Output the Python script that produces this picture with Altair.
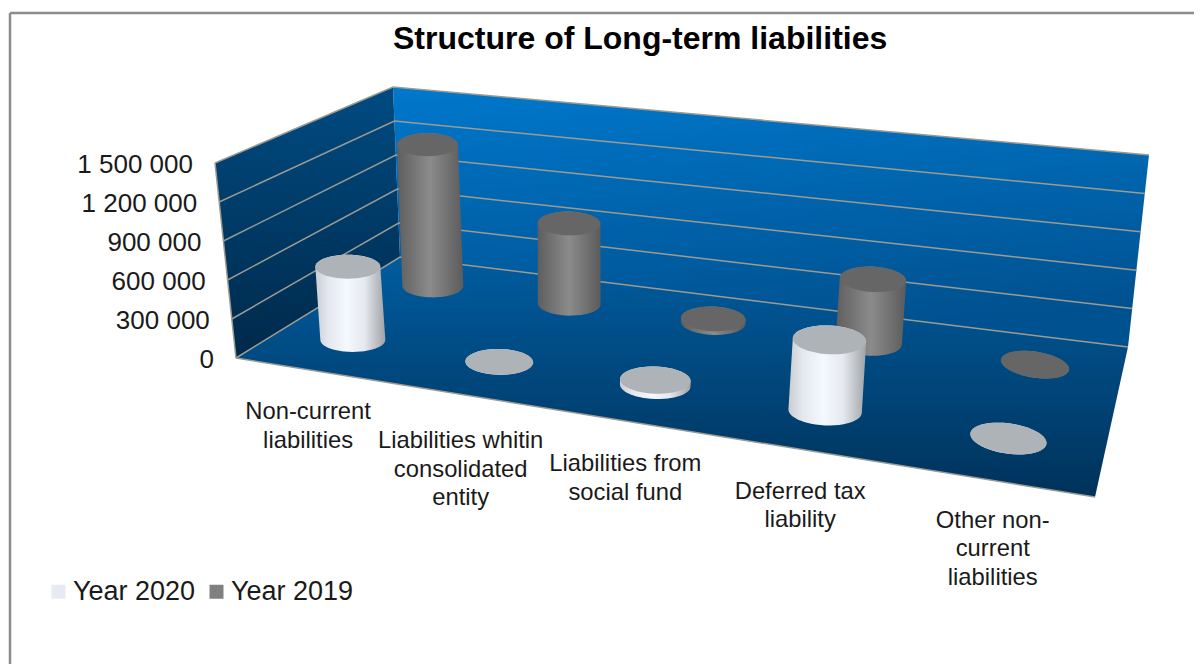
import numpy as np
import pandas as pd
import altair as alt

# ---- values
categories = ["Non-current\nliabilities", "Liabilities whitin\nconsolidated\nentity",
              "Liabilities from\nsocial fund", "Deferred tax\nliability",
              "Other non-\ncurrent\nliabilities"]
year_2020 = [575000, 1000, 40000, 525000, 1000]
year_2019 = [1190000, 660000, 30000, 500000, 1000]
tick_values = [0, 300000, 600000, 900000, 1200000, 1500000]
series_names = ["Year 2020", "Year 2019"]
title_text = "Structure of Long-term liabilities"
FONT = "Liberation Sans"
AXIS_MAX = 1500000

# ---- the oblique view: floor corners and the height of the axis maximum
F = np.array([[236, 358], [1095, 497], [1128, 347], [400, 257]], float)
UP_FL, UP_BL, UP_BR, UP_FR = map(np.array, ([-21., -195.], [-7., -170.], [21., -192.], [26., -215.]))
# small layout corrections per category
U_SHIFT = [0.005, 0.01, 0.01, 0.009, 0.0045]
TILT = [0, 0.5, 1, 1.5, 4.5]
LABEL_NUDGE = [(3, 31), (8, 36), (11, 33), (8, 32), (4, 29)]


def make_h():
    (x0, y0), (x1, y1), (x2, y2), (x3, y3) = F
    dx1, dx2, sx = x1 - x2, x3 - x2, x0 - x1 + x2 - x3
    dy1, dy2, sy = y1 - y2, y3 - y2, y0 - y1 + y2 - y3
    det = dx1 * dy2 - dx2 * dy1
    g = (sx * dy2 - dx2 * sy) / det
    h = (dx1 * sy - sx * dy1) / det
    return np.array([[x1 - x0 + g * x1, x3 - x0 + h * x3, x0],
                     [y1 - y0 + g * y1, y3 - y0 + h * y3, y0],
                     [g, h, 1.0]])


H = make_h()


def floor(u, v):
    p = H @ np.array([u, v, 1.0])
    return p[:2] / p[2]


def lift(u, v, value):
    up = (UP_FL * (1 - u) * (1 - v) + UP_FR * u * (1 - v) + UP_BL * (1 - u) * v + UP_BR * u * v)
    return floor(u, v) + up * value / AXIS_MAX


def hull(points):
    pts = sorted(set((round(float(a), 2), round(float(b), 2)) for a, b in points))

    def half(seq):
        out = []
        for p in seq:
            while len(out) > 1 and ((out[-1][0] - out[-2][0]) * (p[1] - out[-2][1])
                                    - (out[-1][1] - out[-2][1]) * (p[0] - out[-2][0])) <= 0:
                out.pop()
            out.append(p)
        return out
    return half(pts), half(pts[::-1])


def poly_rows(points, key, **extra):
    a, b = hull(points)
    a = np.array(a)
    b = np.array(b[::-1])
    xs = np.unique(np.r_[a[:, 0], b[:, 0]])
    ya = np.interp(xs, a[:, 0], a[:, 1])
    yb = np.interp(xs, b[:, 0], b[:, 1])
    return [dict(x=float(x), y=float(p), y2=float(q), key=key, **extra) for x, p, q in zip(xs, ya, yb)]


def ellipse(c, i, back):
    rx = (30.5 + 0.9 * i) if back else (32.5 + 1.4 * i)
    ry = (11.5 + 0.4 * i) if back else (12 + 0.8 * i)
    t = np.linspace(0, 2 * np.pi, 49)[:-1]
    return np.c_[c[0] + rx * np.cos(t), c[1] + ry * np.sin(t) + TILT[i] * np.cos(t)]


def cylinders(values, v, back, name):
    bodies, tops = [], []
    for i, val in enumerate(values):
        u = (i + 0.5) / 5 + U_SHIFT[i]
        base, top = floor(u, v), lift(u, v, val)
        eb, et = ellipse(base, i, back), ellipse(top, i, back)
        bodies += poly_rows(np.r_[eb, et], f"{name}{i}", series=name, value=val)
        tops += poly_rows(et, f"{name}{i}", series=name, value=val)
    return pd.DataFrame(bodies), pd.DataFrame(tops)


b19, t19 = cylinders(year_2019, 0.77, True, series_names[1])
b20, t20 = cylinders(year_2020, 0.25, False, series_names[0])

p_fl, p_fr, p_br, p_bl = floor(0, 0), floor(1, 0), floor(1, 1), floor(0, 1)
t_fl, t_bl, t_br = p_fl + UP_FL, p_bl + UP_BL, p_br + UP_BR

back_wall = pd.DataFrame(poly_rows([t_bl, t_br, p_br, p_bl], "back"))
left_wall = pd.DataFrame(poly_rows([t_fl, t_bl, p_bl, p_fl], "left"))
floor_df = pd.DataFrame(poly_rows([p_fl, p_fr, p_br, p_bl], "floor"))

grid_rows = []
for tv in tick_values:
    f = tv / AXIS_MAX
    for n, (p, up) in enumerate([(p_fl, UP_FL), (p_bl, UP_BL), (p_br, UP_BR)]):
        q = p + up * f
        grid_rows.append(dict(x=q[0], y=q[1], key=f"g{tv}", n=n))
for n, q in enumerate([p_fl, p_fr]):
    grid_rows.append(dict(x=q[0], y=q[1], key="front", n=n))
for n, q in enumerate([t_fl, p_fl]):
    grid_rows.append(dict(x=q[0], y=q[1], key="edge", n=n))
grid_df = pd.DataFrame(grid_rows)

tick_df = pd.DataFrame([
    dict(x=(p_fl + UP_FL * tv / AXIS_MAX)[0] - 22, y=(p_fl + UP_FL * tv / AXIS_MAX)[1] + 2,
         label=f"{tv:,}".replace(",", " ")) for tv in tick_values])

cat_df = pd.DataFrame([
    dict(x=floor((i + 0.5) / 5, 0)[0] + LABEL_NUDGE[i][0], y=floor((i + 0.5) / 5, 0)[1] + LABEL_NUDGE[i][1], label=c)
    for i, c in enumerate(categories)])

legend_df = pd.DataFrame([
    dict(x=floor(0.5, 0.5)[0], y=floor(0.5, 0.5)[1], series=s) for s in series_names])

frame_df = pd.DataFrame([dict(x=10, y=13, n=0), dict(x=10, y=700, n=1),
                         dict(x=10, y=13, n=2), dict(x=1300, y=13, n=3)])
frame_df["key"] = ["l", "l", "t", "t"]

W, H_PX = 1186, 656
X = alt.X("x:Q", scale=alt.Scale(domain=[8, 8 + W]), axis=None)
Y = alt.Y("y:Q", scale=alt.Scale(domain=[8 + H_PX, 8]), axis=None)


def grad(stops, x2=0, y2=1):
    return alt.Gradient(gradient="linear", x1=0, y1=0, x2=x2, y2=y2,
                        stops=[alt.GradientStop(offset=o, color=c) for o, c in stops])


def area(df, fill):
    return alt.Chart(df).mark_area(fill=fill, clip=False, stroke=None).encode(
        x=X, y=Y, y2="y2:Q", detail="key:N")


white_grad = grad([(0, "#c9cdd1"), (0.18, "#e4e8ee"), (0.45, "#f4f8ff"), (0.7, "#e6e9ee"), (1, "#9fa3a7")], 1, 0)
gray_grad = grad([(0, "#5e5e5e"), (0.5, "#8b8b8b"), (1, "#5b5b5b")], 1, 0)

legend_layer = alt.Chart(legend_df).mark_point(filled=True, shape="square", size=4, opacity=1).encode(
    x=X, y=Y,
    color=alt.Color("series:N", scale=alt.Scale(domain=series_names, range=["#e6ebf3", "#808080"]),
                    legend=alt.Legend(orient="none", legendX=37, legendY=570, direction="horizontal",
                                      columns=2, title=None, symbolType="square", symbolSize=196,
                                      symbolStrokeWidth=0, labelFont=FONT, labelFontSize=27,
                                      labelColor="#1a1a1a", labelOffset=1, columnPadding=7,
                                      padding=0, symbolOffset=0)))

layers = [
    legend_layer,
    area(back_wall, grad([(0, "#0078cc"), (1, "#00518f")], 0.2, 1)),
    area(left_wall, grad([(0, "#004b82"), (1, "#00294a")], 0, 1)),
    area(floor_df, grad([(0, "#005c9f"), (1, "#00325a")], 0, 1)),
    alt.Chart(grid_df).mark_line(color="#9b9b92", strokeWidth=1.5, clip=False).encode(
        x=X, y=Y, detail="key:N", order="n:Q"),
    area(b19, gray_grad),
    area(t19, "#666666"),
    area(b20, white_grad),
    area(t20, "#aeb3b7"),
    alt.Chart(tick_df).mark_text(font=FONT, fontSize=26, align="right", baseline="middle", color="#1a1a1a").encode(
        x=X, y=Y, text="label:N"),
    alt.Chart(cat_df).mark_text(font=FONT, fontSize=23.8, align="center", baseline="top", color="#1a1a1a",
                                lineBreak="\n", lineHeight=28.5).encode(x=X, y=Y, text="label:N"),
    alt.Chart(frame_df).mark_line(color="#8c8c8c", strokeWidth=2.5, clip=False).encode(
        x=X, y=Y, detail="key:N", order="n:Q"),
]

chart = alt.layer(*layers).properties(
    width=W, height=H_PX, padding=0, autosize=alt.AutoSizeParams(type="none"),
    title=alt.TitleParams(title_text, font=FONT, fontSize=32, fontWeight="bold", color="#000000",
                          anchor="start", dx=388, dy=48, offset=0),
    background="white",
).configure_view(stroke=None)

chart.save("out.html", embed_options={"renderer": "svg", "actions": False})
